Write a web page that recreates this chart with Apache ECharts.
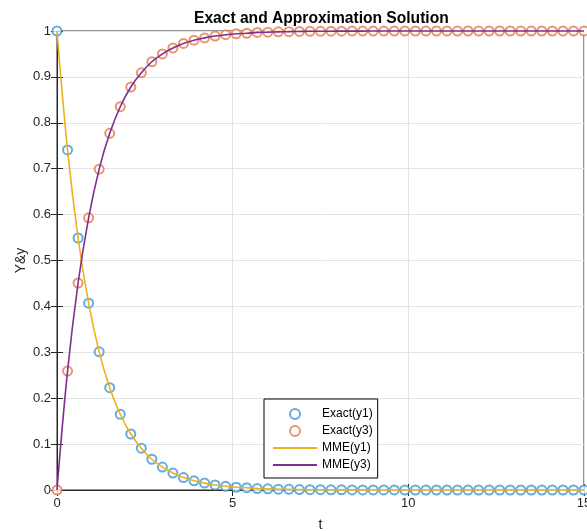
<!DOCTYPE html>
<html>
<head>
<meta charset="utf-8">
<script src="https://cdn.jsdelivr.net/npm/echarts@6/dist/echarts.min.js"></script>
<style>html,body{margin:0;padding:0;background:#fff;}#c{width:587px;height:531px;}</style>
</head>
<body>
<div id="c"></div>
<script>
var tValues = [0,0.3,0.6,0.9,1.2,1.5,1.8,2.1,2.4,2.7,3,3.3,3.6,3.9,4.2,4.5,4.8,5.1,5.4,5.7,6,6.3,6.6,6.9,7.2,7.5,7.8,8.1,8.4,8.7,9,9.3,9.6,9.9,10.2,10.5,10.8,11.1,11.4,11.7,12,12.3,12.6,12.9,13.2,13.5,13.8,14.1,14.4,14.7,15];
var exactY1 = [1.000,0.741,0.549,0.407,0.301,0.223,0.165,0.122,0.091,0.067,0.050,0.037,0.027,0.020,0.015,0.011,0.008,0.006,0.005,0.003,0.0025,0.0018,0.0014,0.0010,0.0007,0.0006,0.0004,0.0003,0.0002,0.0002,0.0001,0.0001,0.0001,0,0,0,0,0,0,0,0,0,0,0,0,0,0,0,0,0,0];
var exactY3 = [0.000,0.259,0.451,0.593,0.699,0.777,0.835,0.878,0.909,0.933,0.950,0.963,0.973,0.980,0.985,0.989,0.992,0.994,0.995,0.997,0.9975,0.9982,0.9986,0.9990,0.9993,0.9994,0.9996,0.9997,0.9998,0.9998,0.9999,0.9999,0.9999,1,1,1,1,1,1,1,1,1,1,1,1,1,1,1,1,1,1];
var mmeY1 = exactY1;
var mmeY3 = exactY3;
var xTicks = [0,5,10,15];
var yTicks = [0,0.1,0.2,0.3,0.4,0.5,0.6,0.7,0.8,0.9,1];

function pairs(ys){ return tValues.map(function(t,i){ return [t, ys[i]]; }); }

var axisCol = '#262626';
var font = 'Liberation Sans, Arial, Helvetica, sans-serif';
var chart = echarts.init(document.getElementById('c'), null, {renderer:'canvas'});
chart.setOption({
  animation:false,
  backgroundColor:'#fff',
  title:{text:'Exact and Approximation Solution', left:189, top:6,
    textStyle:{fontFamily:font, fontSize:15.6, fontWeight:'bold', color:'#000'}},
  grid:{left:57, right:3, top:31, bottom:41, outerBoundsMode:'none', containLabel:false,
    show:true, borderColor:axisCol, borderWidth:1, backgroundColor:'transparent'},
  legend:{
    left:264, top:399, orient:'vertical', backgroundColor:'#fff', borderColor:'#000', borderWidth:1,
    padding:[9,5,7,8], itemWidth:44, itemHeight:10, itemGap:5,
    textStyle:{fontFamily:font, fontSize:12, color:'#000'},
    data:[
      {name:'Exact(y1)', icon:'emptyCircle'},
      {name:'Exact(y3)', icon:'emptyCircle'},
      {name:'MME(y1)', itemStyle:{opacity:0}},
      {name:'MME(y3)', itemStyle:{opacity:0}}
    ]
  },
  xAxis:[{
    type:'value', min:0, max:15, interval:5,
    name:'t', nameLocation:'middle', nameGap:28, nameMoveOverlap:false,
    nameTextStyle:{fontFamily:font, fontSize:14, color:axisCol},
    axisLine:{lineStyle:{color:axisCol, width:1}},
    axisTick:{inside:true, length:6, lineStyle:{color:axisCol}},
    axisLabel:{fontFamily:font, fontSize:13, color:axisCol, margin:7,
      formatter:function(v){ return xTicks.indexOf(v)>=0 ? String(v) : ''; }},
    splitLine:{show:true, lineStyle:{color:'#e3e3e3', width:1}}
  },{
    type:'value', min:0, max:15, interval:5, position:'top',
    axisLine:{show:true, lineStyle:{color:axisCol}}, axisTick:{inside:true, length:6, lineStyle:{color:axisCol}},
    axisLabel:{show:false}, splitLine:{show:false}
  }],
  yAxis:[{
    type:'value', min:0, max:1, interval:0.1,
    name:'Y&y', nameLocation:'middle', nameGap:29, nameRotate:90, nameMoveOverlap:false,
    nameTextStyle:{fontFamily:font, fontSize:14, color:axisCol},
    axisLine:{show:true, lineStyle:{color:axisCol, width:1}},
    axisTick:{show:true, inside:true, length:6, lineStyle:{color:axisCol}},
    axisLabel:{fontFamily:font, fontSize:13, color:axisCol, margin:6,
      formatter:function(v){ var r=Math.round(v*10)/10; return yTicks.indexOf(r)>=0 ? String(r) : ''; }},
    splitLine:{show:true, lineStyle:{color:'#e3e3e3', width:1}}
  },{
    type:'value', min:0, max:1, interval:0.1, position:'right',
    axisLine:{show:true, lineStyle:{color:axisCol}}, axisTick:{show:true, inside:true, length:6, lineStyle:{color:axisCol}},
    axisLabel:{show:false}, splitLine:{show:false}
  }],
  series:[
    {name:'Exact(y1)', type:'scatter', data:pairs(exactY1), symbol:'emptyCircle', symbolSize:9, clip:false,
      itemStyle:{color:'#3d97d6', borderColor:'#3d97d6', borderWidth:1.1}, z:3},
    {name:'Exact(y3)', type:'scatter', data:pairs(exactY3), symbol:'emptyCircle', symbolSize:9, clip:false,
      itemStyle:{color:'#e5794e', borderColor:'#e5794e', borderWidth:1.1}, z:3},
    {name:'MME(y1)', type:'line', data:pairs(mmeY1), showSymbol:false, symbol:'none', smooth:0.4, clip:false,
      lineStyle:{color:'#EDB120', width:1.6}, itemStyle:{color:'#EDB120'}, z:4},
    {name:'MME(y3)', type:'line', data:pairs(mmeY3), showSymbol:false, symbol:'none', smooth:0.4, clip:false,
      lineStyle:{color:'#7E2F8E', width:1.6}, itemStyle:{color:'#7E2F8E'}, z:4}
  ]
});
</script>
</body>
</html>
